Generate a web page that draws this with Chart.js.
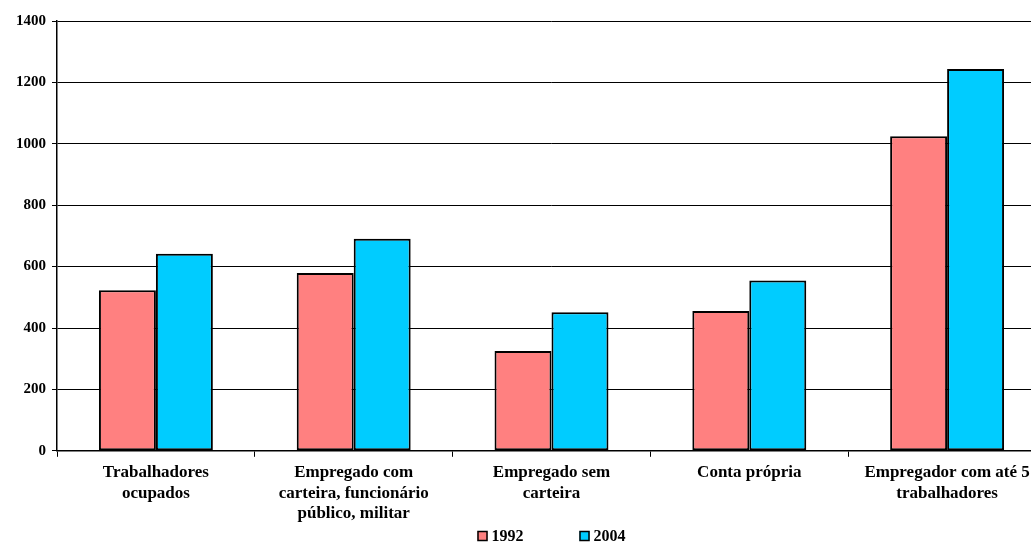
<!DOCTYPE html>
<html>
<head>
<meta charset="utf-8">
<title>Rendimento por posição na ocupação</title>
<script src="https://cdn.jsdelivr.net/npm/chart.js@4.4.1/dist/chart.umd.min.js"></script>
<style>
  html, body { margin: 0; padding: 0; background: #fff; overflow: hidden; }
  #wrap { width: 1060px; height: 542px; }
</style>
</head>
<body>
<div id="wrap"><canvas id="chart" width="1060" height="542"></canvas></div>
<script>
const categories = [
  ['Trabalhadores', 'ocupados'],
  ['Empregado com', 'carteira, funcionário', 'público, militar'],
  ['Empregado sem', 'carteira'],
  ['Conta própria'],
  ['Empregador com até 5', 'trabalhadores']
];
const seriesLabels = ['1992', '2004'];
const values1992 = [523, 579, 325, 455, 1025];
const values2004 = [642, 691, 451, 555, 1244];
const yMin = 0;
const yMax = 1400;
const yStep = 200;

const FONT = "'Liberation Serif', 'Times New Roman', serif";

// legend drawn under the axis labels, centred on the plot area
const bottomLegend = {
  id: 'bottomLegend',
  afterDraw(chart) {
    const ctx = chart.ctx;
    const items = chart.data.datasets;
    const box = 10, gap = 4, spacing = 56;
    ctx.save();
    ctx.font = 'bold 16px ' + FONT;
    ctx.textBaseline = 'middle';
    const widths = items.map(d => box + gap + ctx.measureText(d.label).width);
    const total = widths.reduce((a, b) => a + b, 0) + spacing * (items.length - 1);
    const area = chart.chartArea;
    let x = (area.left + area.right) / 2 - total / 2;
    const y = 536;
    items.forEach((d, i) => {
      ctx.fillStyle = d.backgroundColor;
      ctx.fillRect(x, y - box / 2, box, box);
      ctx.strokeStyle = '#000';
      ctx.lineWidth = 1.5;
      ctx.strokeRect(x + 0.5, y - box / 2 + 0.5, box - 1, box - 1);
      ctx.fillStyle = '#000';
      ctx.fillText(d.label, x + box + gap, y + 1);
      x += widths[i] + spacing;
    });
    ctx.restore();
  }
};

new Chart(document.getElementById('chart'), {
  type: 'bar',
  data: {
    labels: categories,
    datasets: [
      {
        label: seriesLabels[0],
        data: values1992,
        backgroundColor: '#FF8080',
        borderColor: '#000',
        borderWidth: 2,
        borderSkipped: false
      },
      {
        label: seriesLabels[1],
        data: values2004,
        backgroundColor: '#00CCFF',
        borderColor: '#000',
        borderWidth: 2,
        borderSkipped: false
      }
    ]
  },
  options: {
    responsive: false,
    animation: false,
    categoryPercentage: 0.576,
    barPercentage: 1,
    layout: { padding: { left: 10, right: 14, top: 21, bottom: 12 } },
    plugins: {
      legend: { display: false },
      tooltip: { enabled: false }
    },
    scales: {
      x: {
        grid: {
          display: true,
          drawOnChartArea: false,
          color: '#000',
          tickLength: 6,
          offset: true
        },
        border: { display: true, color: '#000', width: 1.5 },
        ticks: {
          color: '#000',
          font: { family: FONT, size: 17, weight: 'bold', lineHeight: 1.2 },
          padding: 6,
          maxRotation: 0,
          autoSkip: false
        }
      },
      y: {
        min: yMin,
        max: yMax,
        grid: {
          color: '#000',
          lineWidth: 1,
          tickLength: 5
        },
        border: { display: true, color: '#000', width: 1.5 },
        ticks: {
          stepSize: yStep,
          color: '#000',
          font: { family: FONT, size: 15, weight: 'bold' },
          padding: 6,
          callback: v => String(v)
        }
      }
    }
  },
  plugins: [bottomLegend]
});
</script>
</body>
</html>
